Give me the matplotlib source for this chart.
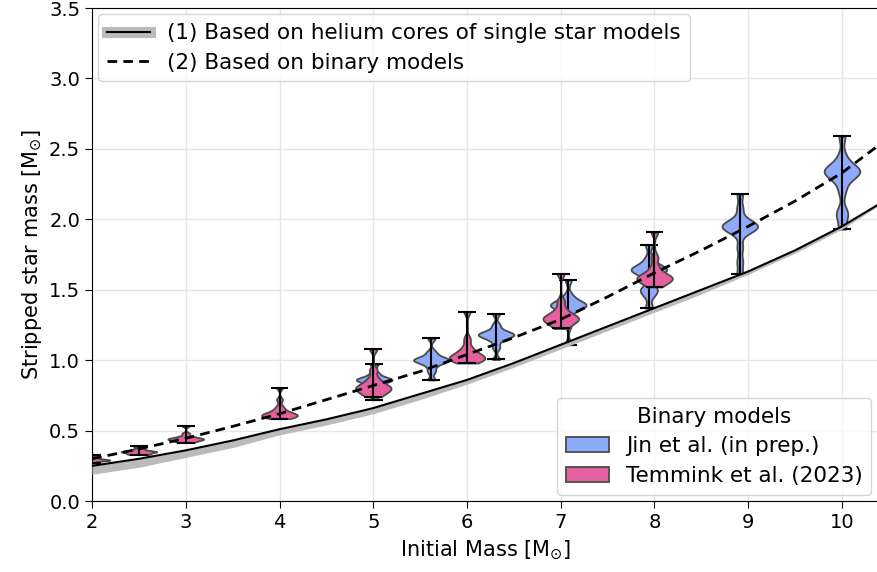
import matplotlib.pyplot as plt
from matplotlib.lines import Line2D
from matplotlib.patches import Patch

# model curves
mass_grid = [2, 2.5, 3, 3.5, 4, 4.5, 5, 5.5, 6, 6.5, 7, 7.5, 8, 8.5, 9, 9.5, 10, 10.4]
single_core = [0.25, 0.30, 0.36, 0.43, 0.51, 0.58, 0.66, 0.76, 0.86, 0.98, 1.11, 1.24,
               1.37, 1.50, 1.63, 1.78, 1.95, 2.11]
single_core_low = [0.19, 0.24, 0.31, 0.38, 0.47, 0.54, 0.62, 0.72, 0.83, 0.95, 1.08, 1.21,
                   1.34, 1.47, 1.61, 1.76, 1.93, 2.10]
binary_fit = [0.30, 0.37, 0.445, 0.53, 0.62, 0.72, 0.82, 0.92, 1.04, 1.16, 1.29, 1.45,
              1.62, 1.78, 1.95, 2.13, 2.33, 2.53]

# Jin et al. (in prep.)
jin_mass = [5.01, 5.62, 6.31, 7.08, 7.94, 8.91, 10.0]
jin_samples = [
    [0.72, 0.80, 0.84, 0.85, 0.86, 0.86, 0.87, 0.88, 0.91, 0.97],
    [0.86, 0.92, 0.96, 0.985, 0.995, 1.0, 1.005, 1.01, 1.03, 1.06, 1.155],
    [1.005, 1.09, 1.14, 1.165, 1.175, 1.18, 1.185, 1.19, 1.21, 1.25, 1.33],
    [1.11, 1.25, 1.35, 1.375, 1.385, 1.39, 1.395, 1.40, 1.42, 1.46, 1.57],
    [1.37, 1.46, 1.50, 1.51, 1.60, 1.63, 1.64, 1.645, 1.65, 1.67, 1.72, 1.82],
    [1.61, 1.70, 1.80, 1.90, 1.93, 1.94, 1.95, 1.95, 1.96, 1.97, 2.00, 2.08, 2.18],
    [1.93, 2.02, 2.06, 2.20, 2.28, 2.31, 2.33, 2.34, 2.35, 2.36, 2.38, 2.45, 2.59],
]

# Temmink et al. (2023)
tem_mass = [2.0, 2.5, 3.0, 4.0, 5.0, 6.0, 7.0, 8.0]
tem_samples = [
    [0.27, 0.285, 0.29, 0.29, 0.295, 0.30, 0.31, 0.33],
    [0.33, 0.335, 0.34, 0.345, 0.35, 0.35, 0.355, 0.36, 0.37, 0.39],
    [0.415, 0.42, 0.43, 0.435, 0.44, 0.44, 0.445, 0.45, 0.46, 0.48, 0.535],
    [0.585, 0.595, 0.60, 0.605, 0.61, 0.615, 0.62, 0.63, 0.645, 0.67, 0.72, 0.805],
    [0.74, 0.76, 0.78, 0.79, 0.80, 0.81, 0.82, 0.84, 0.87, 0.93, 1.08],
    [0.98, 0.995, 1.005, 1.01, 1.02, 1.03, 1.04, 1.06, 1.09, 1.15, 1.345],
    [1.225, 1.25, 1.27, 1.285, 1.295, 1.30, 1.31, 1.33, 1.36, 1.42, 1.615],
    [1.52, 1.545, 1.56, 1.575, 1.58, 1.59, 1.60, 1.62, 1.66, 1.73, 1.91],
]

blue = "#8eaafb"
pink = "#e5609f"
edge = "#4a4a4a"
fs = 15

fig = plt.figure(figsize=(8.78, 5.72), dpi=100)
ax = fig.add_axes([0.1048, 0.124, 0.8969, 0.862])


def draw_violins(pos, data, color, z):
    parts = ax.violinplot(data, positions=pos, widths=0.38, bw_method=0.25,
                          showextrema=True)
    for body in parts["bodies"]:
        body.set_facecolor(color)
        body.set_edgecolor(edge)
        body.set_linewidth(1.3)
        body.set_alpha(1)
        body.set_zorder(z)
    for key in ("cmins", "cmaxes", "cbars"):
        parts[key].set_color("k")
        parts[key].set_linewidth(1.5)
        parts[key].set_zorder(z + 0.1)


draw_violins(jin_mass, jin_samples, blue, 2)
draw_violins(tem_mass, tem_samples, pink, 3)

ax.fill_between(mass_grid, single_core_low, single_core, color="#bbbbbb", lw=0, zorder=4)
ax.plot(mass_grid, single_core, color="k", lw=1.5, zorder=5)
ax.plot(mass_grid, binary_fit, color="k", lw=2, ls=(0, (3.5, 2.2)), zorder=5)

ax.set_xlim(2, 10.4)
ax.set_ylim(0, 3.5)
ax.set_xticks(range(2, 11))
ax.set_yticks([0, 0.5, 1, 1.5, 2, 2.5, 3, 3.5])
ax.tick_params(labelsize=fs - 1, length=5)
ax.grid(True, color="#e6e6e6", lw=1)
ax.set_axisbelow(True)
ax.set_xlabel(r"Initial Mass [M$_{\odot}$]", fontsize=fs, labelpad=5)
ax.set_ylabel(r"Stripped star mass [M$_{\odot}$]", fontsize=fs, labelpad=4)

lfs = 15.5
h1 = (Line2D([], [], color="#bbbbbb", lw=8), Line2D([], [], color="k", lw=1.5))
h2 = Line2D([], [], color="k", lw=2, ls=(0, (3.5, 2.2)))
leg1 = ax.legend([h1, h2], ["(1) Based on helium cores of single star models",
                            "(2) Based on binary models"],
                 loc="upper left", fontsize=lfs, handlelength=2,
                 borderaxespad=0.3, labelspacing=0.45)
ax.add_artist(leg1)

h3 = Patch(facecolor=blue, edgecolor=edge, lw=1.3)
h4 = Patch(facecolor=pink, edgecolor=edge, lw=1.3)
ax.legend([h3, h4], ["Jin et al. (in prep.)", "Temmink et al. (2023)"],
          title="Binary models", title_fontsize=lfs, fontsize=lfs,
          loc="lower right", bbox_to_anchor=(0.998, 0.0),
          borderaxespad=0.3, labelspacing=0.45)

fig.savefig("out.png", dpi=100)
